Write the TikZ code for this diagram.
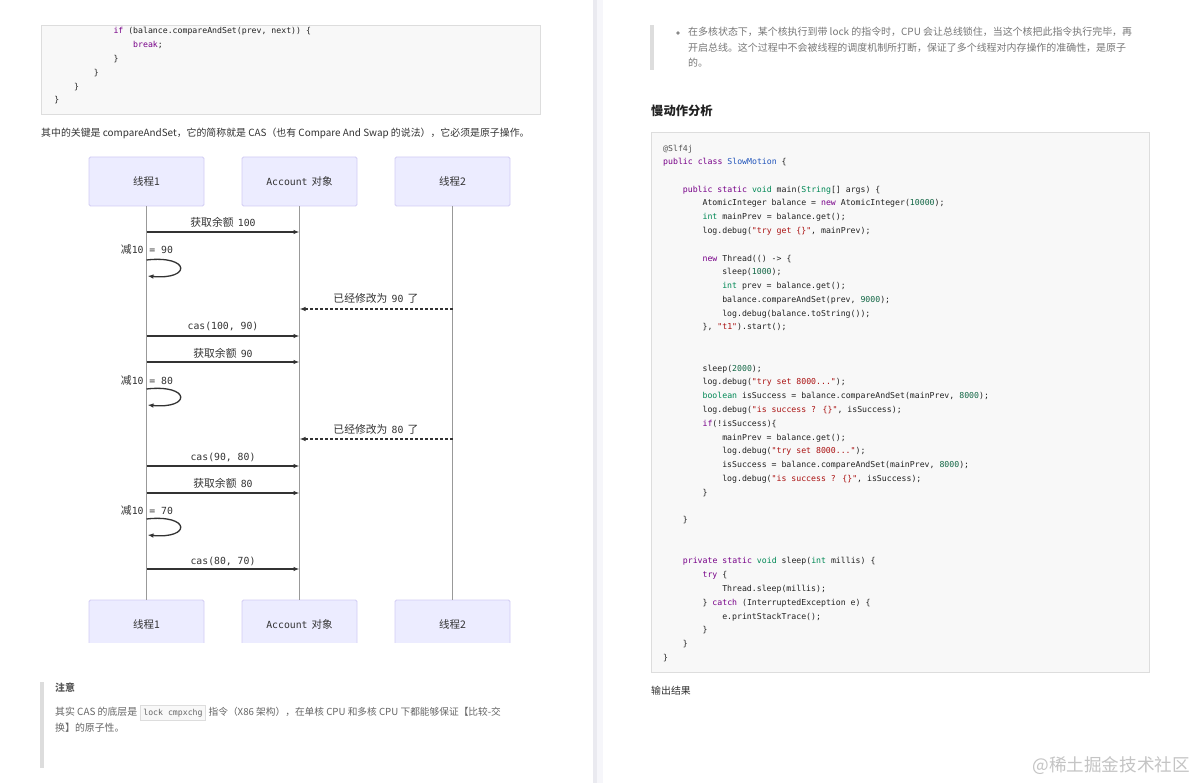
\documentclass[tikz,border=0pt]{standalone}
\usepackage{fontspec}
\setmainfont{Noto Sans CJK SC}
\newfontfamily\cjk{Noto Sans CJK SC}
\newfontfamily\mono{DejaVu Sans Mono}
\usetikzlibrary{arrows.meta,calc}
\definecolor{codebg}{HTML}{F8F8F8}
\definecolor{codeborder}{HTML}{DDDDDD}
\definecolor{codetext}{HTML}{222222}
\definecolor{kwc}{HTML}{770088}
\definecolor{tyc}{HTML}{008855}
\definecolor{stc}{HTML}{AA1111}
\definecolor{nmc}{HTML}{116644}
\definecolor{dfc}{HTML}{2255BB}
\definecolor{metac}{HTML}{555555}
\definecolor{actorfill}{HTML}{ECECFF}
\definecolor{actorborder}{HTML}{D2CCF4}
\definecolor{lifec}{HTML}{999999}
\definecolor{msgc}{HTML}{333333}
\definecolor{bodyc}{HTML}{333333}
\definecolor{quotec}{HTML}{777777}
\definecolor{notec}{HTML}{666666}
\definecolor{notehead}{HTML}{555555}
\definecolor{barc}{HTML}{DDDDDD}
\definecolor{divc}{HTML}{EAEAF0}
\definecolor{divc2}{HTML}{F6F6FA}
\definecolor{bulletc}{HTML}{888888}
\definecolor{headc}{HTML}{222222}
\definecolor{wmc}{HTML}{C4C4C4}
\newcommand{\cKw}[1]{\textcolor{kwc}{#1}}
\newcommand{\cTy}[1]{\textcolor{tyc}{#1}}
\newcommand{\cSt}[1]{\textcolor{stc}{#1}}
\newcommand{\cNm}[1]{\textcolor{nmc}{#1}}
\newcommand{\cDf}[1]{\textcolor{dfc}{#1}}
\tikzset{
  codeline/.style={anchor=west, inner sep=0pt, text=codetext,
    font={\mono\fontsize{8.2}{9}\selectfont}, text height=6.2pt, text depth=1.8pt},
  prose/.style={anchor=west, inner sep=0pt, text=bodyc,
    font={\cjk\fontsize{9.9}{12}\selectfont}, text height=7.5pt, text depth=2pt},
  quotetext/.style={prose, text=quotec, font={\cjk\fontsize{9.95}{12}\selectfont}},
  notetext/.style={prose, text=notec, font={\cjk\fontsize{9.9}{12}\selectfont}},
  actor/.style={draw=actorborder, fill=actorfill, line width=0.8pt, rounded corners=1.5pt,
    minimum width=115pt, minimum height=49pt, inner sep=0pt, text=bodyc,
    font={\cjk\fontsize{10.5}{12}\selectfont}},
  lifeline/.style={draw=lifec, line width=0.9pt},
  msg/.style={draw=msgc, line width=1.3pt, -{Latex[length=6pt,width=4.5pt]}},
  dmsg/.style={msg, line width=1.1pt, dash pattern=on 3pt off 2pt},
  lbl/.style={inner sep=0pt, text=bodyc, font={\cjk\fontsize{10.8}{12}\selectfont},
    text height=8pt, text depth=2pt},
  codebox/.style={fill=codebg, draw=codeborder, line width=0.8pt, inner sep=0pt},
}
\newcommand{\ms}[1]{{\mono\fontsize{9.8}{12}\selectfont #1}}
\begin{document}
\begin{tikzpicture}[x=1pt,y=-1pt]
\useasboundingbox (0,0) rectangle (1196,783);
\fill[white] (0,0) rectangle (1196,783);
% divider between pages
\fill[divc] (593,0) rectangle (597,783);
\fill[divc2] (597,0) rectangle (603,783);

% ---------- left page: code box ----------
\node[codebox, anchor=north west, minimum width=499pt, minimum height=89pt] (lcode) at (41,25) {};
\node[codeline] (l1) at (113.3,31) {\cKw{if} (balance.compareAndSet(prev, next)) \{};
\node[codeline] (l2) at (133,45) {\cKw{break};};
\node[codeline] (l3) at (113.3,59) {\}};
\node[codeline] (l4) at (93.6,73) {\}};
\node[codeline] (l5) at (73.9,87) {\}};
\node[codeline] (l6) at (54.2,100) {\}};

\node[prose] (para) at (41,134) {其中的关键是 compareAndSet，它的简称就是 CAS（也有 Compare And Swap 的说法），它必须是原子操作。};

% ---------- sequence diagram ----------
\node[actor] (p1) at (146.5,181.5) {线程1};
\node[actor] (p2) at (299.5,181.5) {{\mono\fontsize{9.8}{12}\selectfont Account}\, 对象};
\node[actor] (p3) at (452.5,181.5) {线程2};
\begin{scope}
\clip (0,0) rectangle (1196,642);
\node[actor] (b1) at (146.5,624.5) {线程1};
\node[actor] (b2) at (299.5,624.5) {{\mono\fontsize{9.8}{12}\selectfont Account}\, 对象};
\node[actor] (b3) at (452.5,624.5) {线程2};
\end{scope}
\draw[lifeline] (p1.south) -- (b1.north);
\draw[lifeline] (p2.south) -- (b2.north);
\draw[lifeline] (p3.south) -- (b3.north);

\foreach \n/\y in {y1/232, y2a/260, y2b/276, y3/309, y4/336, y5/362, y6a/389, y6b/405, y7/439, y8/466, y9/493, y10a/519, y10b/535, y11/569}
  \coordinate (\n) at (0,\y);

\node[lbl] (t1) at (223,224) {获取余额\, \ms{100}};
\draw[msg] (p1 |- y1) -- (p2 |- y1);
\node[lbl] (t2) at (147,251) {减\ms{10 = 90}};
\draw[msg] (p1 |- y2a) .. controls +(44,-5) and +(44,4) .. ([xshift=1pt]p1 |- y2b);
\node[lbl] (t3) at (376,300) {已经修改为\, \ms{90}\, 了};
\draw[dmsg] (p3 |- y3) -- (p2 |- y3);
\node[lbl] (t4) at (223,327) {\ms{cas(100, 90)}};
\draw[msg] (p1 |- y4) -- (p2 |- y4);
\node[lbl] (t5) at (223,354) {获取余额\, \ms{90}};
\draw[msg] (p1 |- y5) -- (p2 |- y5);
\node[lbl] (t6) at (147,381) {减\ms{10 = 80}};
\draw[msg] (p1 |- y6a) .. controls +(44,-5) and +(44,4) .. ([xshift=1pt]p1 |- y6b);
\node[lbl] (t7) at (376,430) {已经修改为\, \ms{80}\, 了};
\draw[dmsg] (p3 |- y7) -- (p2 |- y7);
\node[lbl] (t8) at (223,457) {\ms{cas(90, 80)}};
\draw[msg] (p1 |- y8) -- (p2 |- y8);
\node[lbl] (t9) at (223,484) {获取余额\, \ms{80}};
\draw[msg] (p1 |- y9) -- (p2 |- y9);
\node[lbl] (t10) at (147,511) {减\ms{10 = 70}};
\draw[msg] (p1 |- y10a) .. controls +(44,-5) and +(44,4) .. ([xshift=1pt]p1 |- y10b);
\node[lbl] (t11) at (223,561) {\ms{cas(80, 70)}};
\draw[msg] (p1 |- y11) -- (p2 |- y11);

% ---------- note block ----------
\fill[barc] (40,682) rectangle (44,768);
\node[notetext, text=notehead] (nt) at (55,689) {\bfseries 注意};
\node[notetext] (n1) at (55,713) {其实 CAS 的底层是};
\node[anchor=west, draw=codeborder, fill=codebg, line width=0.7pt, inner xsep=2.5pt, inner ysep=0pt,
      minimum height=15pt, text=notec, font={\mono\fontsize{8.2}{9}\selectfont}] (n2) at ([xshift=3pt]n1.east) {lock cmpxchg};
\node[notetext, font={\cjk\fontsize{9.7}{12}\selectfont}] (n3) at ([xshift=3pt]n2.east) {指令（X86 架构），在单核 CPU 和多核 CPU 下都能够保证【比较-交};
\node[notetext] (n4) at (55,729) {换】的原子性。};

% ---------- right page ----------
\fill[barc] (650,25) rectangle (654,70);
\fill[bulletc] (678,33) circle (1.9pt);
\node[quotetext] (q1) at (688,33) {在多核状态下，某个核执行到带 lock 的指令时，CPU 会让总线锁住，当这个核把此指令执行完毕，再};
\node[quotetext] (q2) at (688,49) {开启总线。这个过程中不会被线程的调度机制所打断，保证了多个线程对内存操作的准确性，是原子};
\node[quotetext] (q3) at (688,64) {的。};

\node[prose, text=headc, font={\cjk\fontsize{12.3}{14}\selectfont\bfseries}] (h) at (651,113) {慢动作分析};

\node[codebox, anchor=north west, minimum width=498pt, minimum height=540pt] (rcode) at (651,132) {};
\node[codeline, text=metac] (r1) at (663,149) {@Slf4j};
\node[codeline] (r2) at (663,162) {\cKw{public} \cKw{class} \cDf{SlowMotion} \{};
\node[codeline] (r3) at (682.7,190) {\cKw{public} \cKw{static} \cTy{void} main(\cTy{String}[] args) \{};
\node[codeline] (r4) at (702.4,203) {AtomicInteger balance = \cKw{new} AtomicInteger(\cNm{10000});};
\node[codeline] (r5) at (702.4,217) {\cTy{int} mainPrev = balance.get();};
\node[codeline] (r6) at (702.4,231) {log.debug(\cSt{"try get \{\}"}, mainPrev);};
\node[codeline] (r7) at (702.4,259) {\cKw{new} Thread(() -> \{};
\node[codeline] (r8) at (722.1,272) {sleep(\cNm{1000});};
\node[codeline] (r9) at (722.1,286) {\cTy{int} prev = balance.get();};
\node[codeline] (r10) at (722.1,300) {balance.compareAndSet(prev, \cNm{9000});};
\node[codeline] (r11) at (722.1,314) {log.debug(balance.toString());};
\node[codeline] (r12) at (702.4,327) {\}, \cSt{"t1"}).start();};
\node[codeline] (r13) at (702.4,369) {sleep(\cNm{2000});};
\node[codeline] (r14) at (702.4,382) {log.debug(\cSt{"try set 8000..."});};
\node[codeline] (r15) at (702.4,396) {\cTy{boolean} isSuccess = balance.compareAndSet(mainPrev, \cNm{8000});};
\node[codeline] (r16) at (702.4,410) {log.debug(\cSt{"is success ? \{\}"}, isSuccess);};
\node[codeline] (r17) at (702.4,424) {\cKw{if}(!isSuccess)\{};
\node[codeline] (r18) at (722.1,438) {mainPrev = balance.get();};
\node[codeline] (r19) at (722.1,451) {log.debug(\cSt{"try set 8000..."});};
\node[codeline] (r20) at (722.1,465) {isSuccess = balance.compareAndSet(mainPrev, \cNm{8000});};
\node[codeline] (r21) at (722.1,479) {log.debug(\cSt{"is success ? \{\}"}, isSuccess);};
\node[codeline] (r22) at (702.4,493) {\}};
\node[codeline] (r23) at (682.7,520) {\}};
\node[codeline] (r24) at (682.7,561) {\cKw{private} \cKw{static} \cTy{void} sleep(\cTy{int} millis) \{};
\node[codeline] (r25) at (702.4,575) {\cKw{try} \{};
\node[codeline] (r26) at (722.1,589) {Thread.sleep(millis);};
\node[codeline] (r27) at (702.4,603) {\} \cKw{catch} (InterruptedException e) \{};
\node[codeline] (r28) at (722.1,617) {e.printStackTrace();};
\node[codeline] (r29) at (702.4,630) {\}};
\node[codeline] (r30) at (682.7,644) {\}};
\node[codeline] (r31) at (663,658) {\}};

\node[prose] (out) at (651,692) {输出结果};
\node[anchor=east, inner sep=0pt, text=wmc, font={\cjk\fontsize{17.6}{20}\selectfont}] (wm) at (1190,766) {@稀土掘金技术社区};
\end{tikzpicture}
\end{document}
